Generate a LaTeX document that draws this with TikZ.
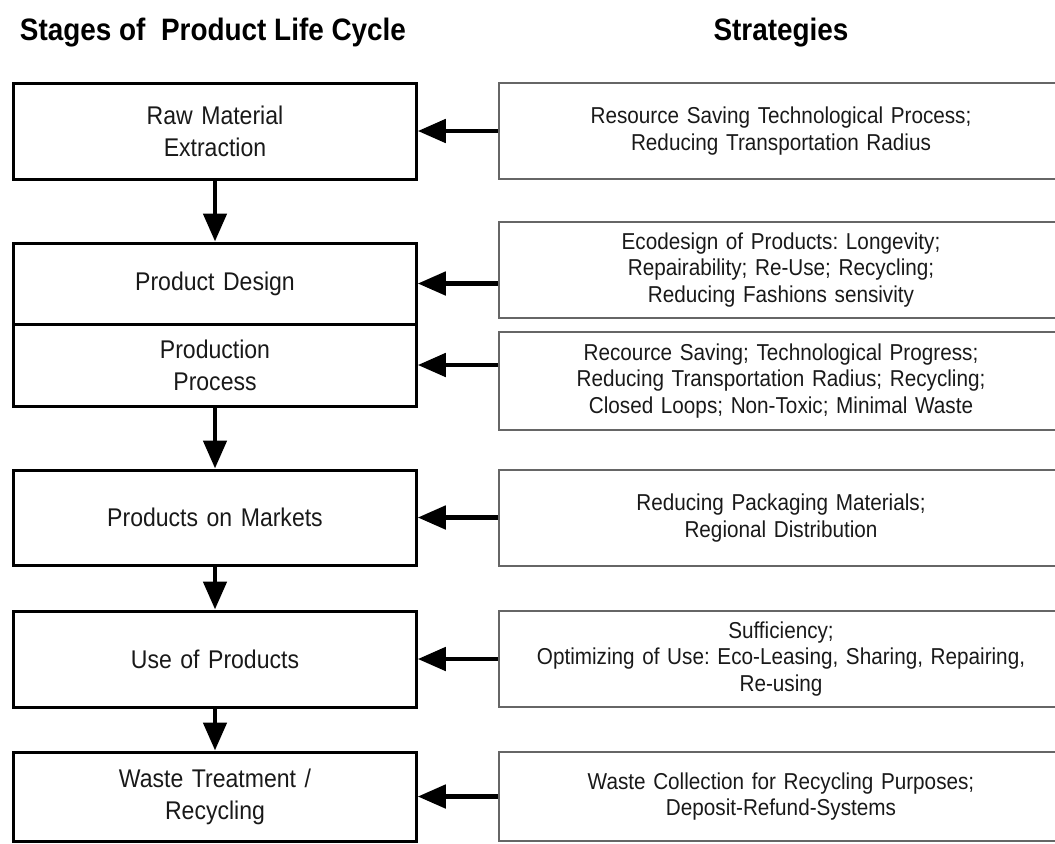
\documentclass[tikz,border=0pt]{standalone}
\usepackage{fontspec}
\setmainfont[FakeStretch=0.9]{Liberation Sans}
\usetikzlibrary{arrows.meta,positioning}
\frenchspacing

\begin{document}
\begin{tikzpicture}[x=0.5pt,y=-0.5pt,
    heading/.style={anchor=base, font=\fontsize{15.5}{18}\selectfont\bfseries},
    stage/.style={draw, line width=1.5pt, minimum width=201.25pt, text width=190pt,
      align=center, inner sep=0pt, text=black!90, font=\fontsize{12.8}{16}\selectfont},
    strategy/.style={draw=black!60, line width=1.2pt, minimum width=282pt, text width=272pt,
      align=center, inner sep=0pt, text=black!90, font=\fontsize{11.5}{13.2}\selectfont},
    feed/.style={-{Triangle[length=14pt,width=11.5pt]}, line width=2.4pt}]
    \useasboundingbox (0,0) rectangle (1055,843);
    % Column headings
    \node[heading] (stagehead) at (213,40) {Stages of\ \ Product Life Cycle};
    \node[heading] (strathead) at (781,40) {Strategies};
    % Stages
    \node[stage, minimum height=48pt]   (raw)     at (215,131)   {Raw Material\\Extraction};
    \node[stage, minimum height=40.5pt] (design)  at (215,283.5) {Product Design};
    \node[stage, minimum height=41pt]   (process) at (215,365)   {Production\\Process};
    \node[stage, minimum height=47.5pt] (market)  at (215,517.5) {Products on Markets};
    \node[stage, minimum height=48pt]   (use)     at (215,659)   {Use of Products};
    \node[stage, minimum height=44.5pt] (waste)   at (215,796.5) {Waste Treatment /\\Recycling};
    % Strategies
    \node[strategy, minimum height=48pt]   (s1) at (781,131) {Resource Saving Technological Process;\\Reducing Transportation Radius};
    \node[strategy, minimum height=48pt]   (s2) at (781,270) {Ecodesign of Products: Longevity;\\Repairability; Re-Use; Recycling;\\Reducing Fashions sensivity};
    \node[strategy, minimum height=49pt]   (s3) at (781,381) {Recource Saving; Technological Progress;\\Reducing Transportation Radius; Recycling;\\Closed Loops; Non-Toxic; Minimal Waste};
    \node[strategy, minimum height=48pt]   (s4) at (781,518) {Reducing Packaging Materials;\\Regional Distribution};
    \node[strategy, minimum height=48pt]   (s5) at (781,659) {Sufficiency;\\Optimizing of Use: Eco-Leasing, Sharing, Repairing,\\Re-using};
    \node[strategy, minimum height=44.5pt] (s6) at (781,796.5) {Waste Collection for Recycling Purposes;\\Deposit-Refund-Systems};
    % Flow down the life cycle
    \foreach \a/\b in {raw/design, process/market, market/use, use/waste}
      \draw[feed] (\a.south) -- (\b.north);
    % Strategies feeding the stages
    \foreach \s/\t in {s1/raw, s2/design, s3/process, s4/market, s5/use, s6/waste}
      \draw[feed] (\s.west |- \t.east) -- (\t.east);
\end{tikzpicture}
\end{document}
